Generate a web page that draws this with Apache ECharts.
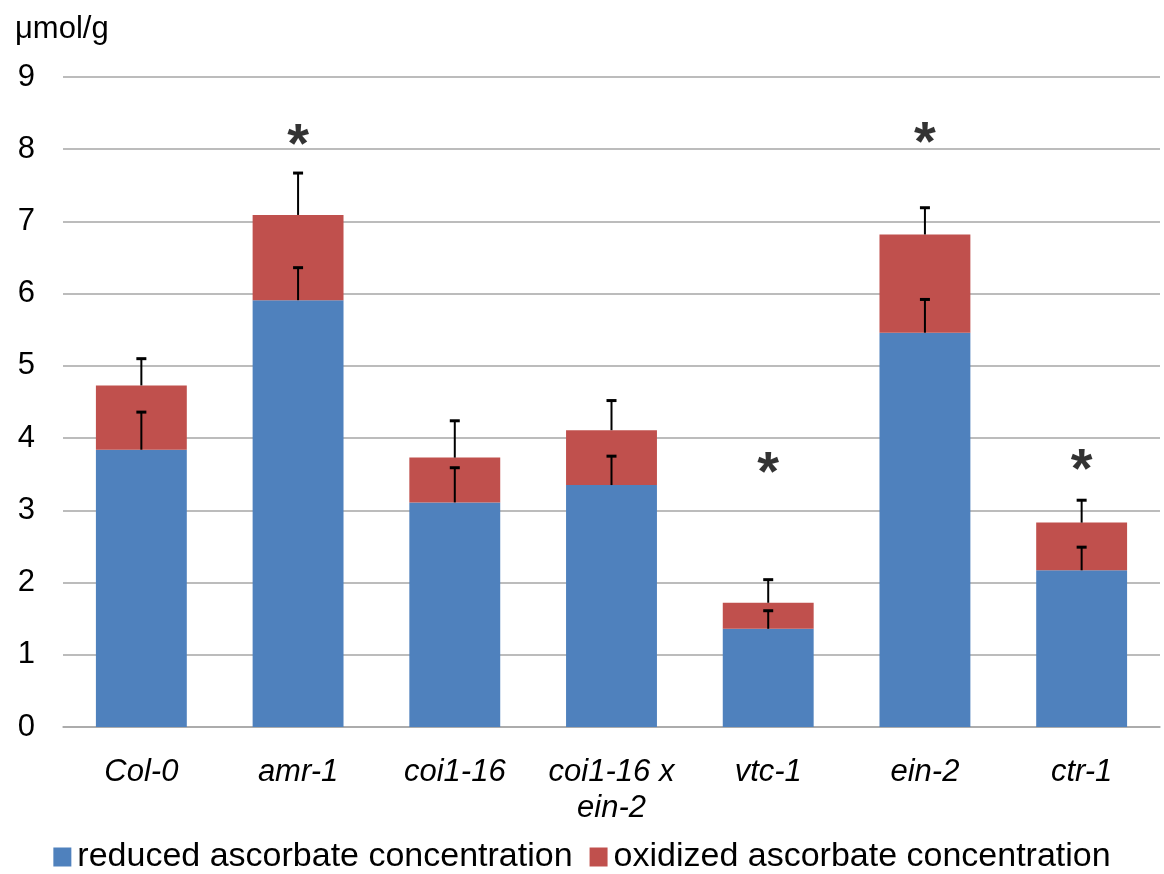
<!DOCTYPE html>
<html>
<head>
<meta charset="utf-8">
<script src="https://cdn.jsdelivr.net/npm/echarts@6/dist/echarts.min.js"></script>
<style>
html,body{margin:0;padding:0;background:#fff;}
#chart{width:1164px;height:874px;}
</style>
</head>
<body>
<div id="chart"></div>
<script>
const categories = ['Col-0', 'amr-1', 'coi1-16', 'coi1-16 x\nein-2', 'vtc-1', 'ein-2', 'ctr-1'];
const reduced = [3.84, 5.91, 3.11, 3.35, 1.36, 5.46, 2.17];
const oxidized = [0.89, 1.18, 0.62, 0.76, 0.36, 1.36, 0.66];
const reducedErr = [0.52, 0.45, 0.48, 0.40, 0.25, 0.46, 0.32];
const totalErr = [0.37, 0.58, 0.51, 0.41, 0.32, 0.37, 0.31];
const sigMarks = ['-', 8.18, '-', '-', 3.63, 8.2, 3.67];
const yTicks = [0, 1, 2, 3, 4, 5, 6, 7, 8, 9];

const FONT = "'Liberation Sans', Arial, sans-serif";
const BLUE = '#4F81BD';
const RED = '#C0504D';

const redErrData = categories.map((c, i) => [i, reduced[i], reduced[i] + reducedErr[i]]);
const totErrData = categories.map((c, i) => [i, reduced[i] + oxidized[i], reduced[i] + oxidized[i] + totalErr[i]]);

function errRender(params, api) {
  const i = api.value(0);
  const lo = api.coord([i, api.value(1)]);
  const hi = api.coord([i, api.value(2)]);
  const cap = 5;
  return {
    type: 'group',
    children: [
      { type: 'line', shape: { x1: lo[0], y1: lo[1], x2: hi[0], y2: hi[1] }, style: { stroke: '#000', lineWidth: 2 } },
      { type: 'line', shape: { x1: hi[0] - cap, y1: hi[1], x2: hi[0] + cap, y2: hi[1] }, style: { stroke: '#000', lineWidth: 3 } }
    ]
  };
}

const chart = echarts.init(document.getElementById('chart'));
chart.setOption({
  animation: false,
  backgroundColor: '#fff',
  textStyle: { fontFamily: FONT },
  title: {
    text: 'μmol/g', left: 10, top: 9,
    textStyle: { fontFamily: FONT, fontSize: 31, fontWeight: 'normal', color: '#000' }
  },
  legend: {
    data: ['reduced ascorbate concentration', 'oxidized ascorbate concentration'],
    bottom: -5, left: 'center',
    icon: 'rect', itemWidth: 18, itemHeight: 19, itemGap: 17,
    textStyle: { fontFamily: FONT, fontSize: 34, color: '#000', padding: [0, 0, 0, 1] }
  },
  grid: { left: 63, right: 4, top: 77, bottom: 147, containLabel: false },
  xAxis: {
    type: 'category', data: categories,
    axisLine: { lineStyle: { color: '#a6a6a6', width: 1.5 } },
    axisTick: { show: false },
    axisLabel: { fontFamily: FONT, fontSize: 31, fontStyle: 'italic', color: '#000', lineHeight: 36, margin: 27, interval: 0 }
  },
  yAxis: {
    type: 'value', min: 0, max: 9, interval: 1,
    axisLine: { show: false }, axisTick: { show: false },
    splitLine: { lineStyle: { color: '#a6a6a6', width: 1.5 } },
    axisLabel: { fontFamily: FONT, fontSize: 31, color: '#000', margin: 28,
      formatter: v => yTicks.includes(v) ? String(v) : '' }
  },
  series: [
    { name: 'reduced ascorbate concentration', type: 'bar', stack: 'a', data: reduced, barWidth: '58%', itemStyle: { color: BLUE } },
    { name: 'oxidized ascorbate concentration', type: 'bar', stack: 'a', data: oxidized, barWidth: '58%', itemStyle: { color: RED } },
    { name: 'errRed', type: 'custom', renderItem: errRender, data: redErrData, z: 10, encode: { x: 0, y: [1, 2] } },
    { name: 'errTot', type: 'custom', renderItem: errRender, data: totErrData, z: 10, encode: { x: 0, y: [1, 2] } },
    { name: 'sig', type: 'scatter', data: sigMarks, symbolSize: 1, itemStyle: { color: 'rgba(0,0,0,0)' }, z: 11,
      label: { show: true, position: 'inside', formatter: '*', fontFamily: FONT, fontSize: 56, fontWeight: 'bold', color: '#000', offset: [0, 10] } }
  ]
});
</script>
</body>
</html>
